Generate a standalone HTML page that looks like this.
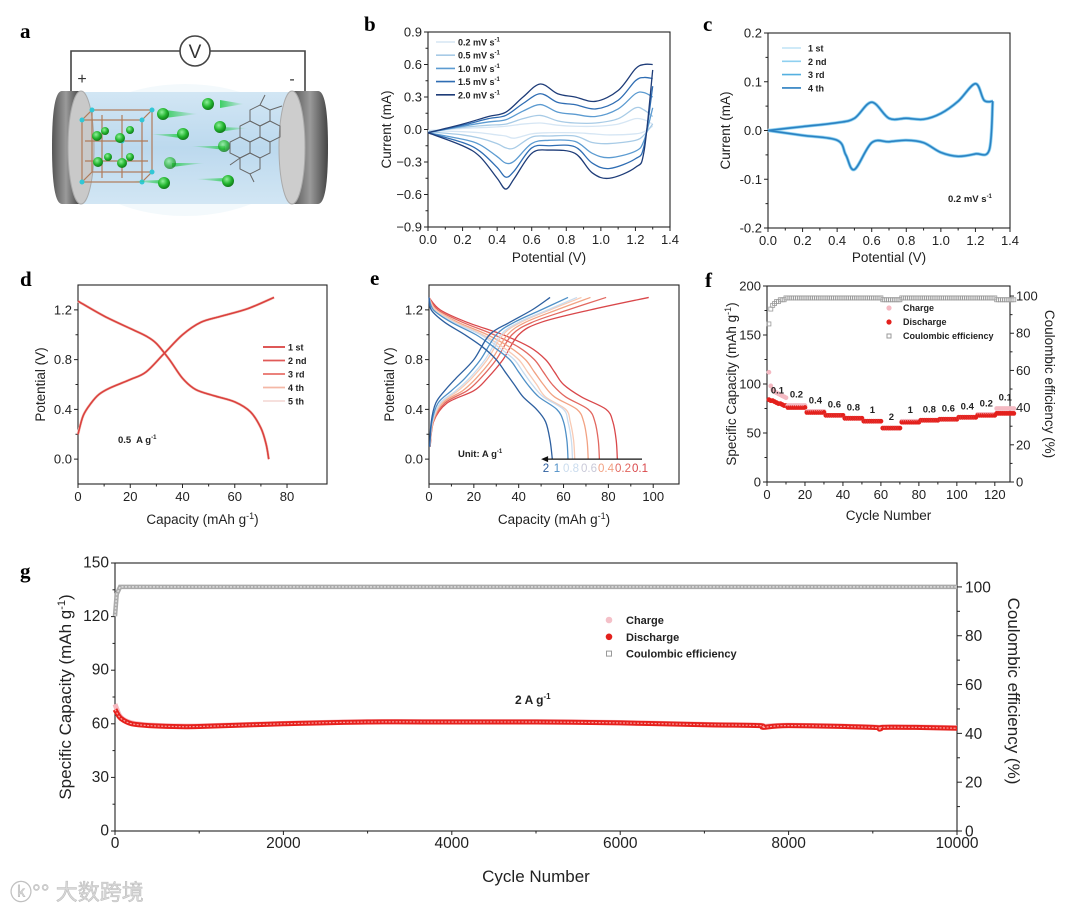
<!DOCTYPE html>
<html><head><meta charset="utf-8">
<style>
html,body{margin:0;padding:0;background:#fff;}
svg{display:block;font-family:"Liberation Sans","Noto Sans CJK SC",sans-serif;}
.pl{font-family:"Liberation Serif",serif;font-weight:bold;font-size:21px;}
</style></head>
<body>
<svg id="fig" width="1080" height="913" viewBox="0 0 1080 913" xmlns="http://www.w3.org/2000/svg">
<defs>
<radialGradient id="gball" cx="40%" cy="35%" r="65%"><stop offset="0" stop-color="#8ff09a"/><stop offset="0.6" stop-color="#22b52f"/><stop offset="1" stop-color="#117a1a"/></radialGradient>
<linearGradient id="gtail" x1="0" x2="1"><stop offset="0" stop-color="#2ecc55" stop-opacity="0"/><stop offset="1" stop-color="#2ecc55" stop-opacity="0.9"/></linearGradient>
<linearGradient id="gtailr" x1="1" x2="0"><stop offset="0" stop-color="#2ecc55" stop-opacity="0"/><stop offset="1" stop-color="#2ecc55" stop-opacity="0.9"/></linearGradient>
<linearGradient id="gbody" x1="0" y1="0" x2="0" y2="1"><stop offset="0" stop-color="#d2e6f4"/><stop offset="0.5" stop-color="#bcd9ee"/><stop offset="1" stop-color="#d2e6f4"/></linearGradient>
<linearGradient id="gcap" x1="0" y1="0" x2="1" y2="0"><stop offset="0" stop-color="#555"/><stop offset="0.5" stop-color="#9a9a9a"/><stop offset="1" stop-color="#444"/></linearGradient>
</defs>
<text class="pl" x="20" y="38">a</text>
<text class="pl" x="364" y="31">b</text>
<text class="pl" x="703" y="31">c</text>
<text class="pl" x="20" y="286">d</text>
<text class="pl" x="370" y="285">e</text>
<text class="pl" x="705" y="287">f</text>
<text class="pl" x="20" y="578">g</text>

<g>
  <polyline points="71,92 71,51 180,51" fill="none" stroke="#444" stroke-width="1.6"/>
  <polyline points="210,51 305,51 305,92" fill="none" stroke="#444" stroke-width="1.6"/>
  <circle cx="195" cy="51" r="15" fill="#fff" stroke="#444" stroke-width="1.6"/>
  <text x="195" y="58" font-size="19" text-anchor="middle" fill="#333">V</text>
  <text x="82" y="84" font-size="16" text-anchor="middle" fill="#333">+</text>
  <text x="292" y="84" font-size="16" text-anchor="middle" fill="#333">-</text>
  <ellipse cx="185" cy="150" rx="115" ry="66" fill="#eef6fb" opacity="0.7"/>
  <rect x="82" y="92" width="210" height="112" fill="url(#gbody)"/>
  <path d="M80,91 L62,91 Q52,91 52,147 Q52,204 62,204 L80,204 Z" fill="url(#gcap)"/>
  <ellipse cx="81" cy="147.5" rx="13" ry="56.5" fill="#c9c9c9" stroke="#aaa"/>
  <path d="M292,91 L318,91 Q328,91 328,147 Q328,204 318,204 L292,204 Z" fill="url(#gcap)"/>
  <ellipse cx="292" cy="147.5" rx="13" ry="56.5" fill="#cdcdcd" stroke="#aaa"/>
  <g stroke="#b07b5a" stroke-width="1.2" fill="none">
    <rect x="82" y="120" width="60" height="62"/>
    <rect x="92" y="110" width="60" height="62"/>
    <line x1="82" y1="120" x2="92" y2="110"/><line x1="142" y1="120" x2="152" y2="110"/>
    <line x1="82" y1="182" x2="92" y2="172"/><line x1="142" y1="182" x2="152" y2="172"/>
    <line x1="102" y1="115" x2="102" y2="178"/><line x1="122" y1="115" x2="122" y2="178"/>
    <line x1="85" y1="141" x2="148" y2="141"/><line x1="85" y1="161" x2="148" y2="161"/>
  </g>
  <g fill="#31c7d6">
    <circle cx="82" cy="120" r="2.5"/><circle cx="142" cy="120" r="2.5"/><circle cx="92" cy="110" r="2.5"/><circle cx="152" cy="110" r="2.5"/>
    <circle cx="82" cy="182" r="2.5"/><circle cx="142" cy="182" r="2.5"/><circle cx="152" cy="172" r="2.5"/><circle cx="122" cy="141" r="2.5"/>
  </g>
  <g>
    <circle cx="97" cy="136" r="5" fill="url(#gball)"/><circle cx="120" cy="138" r="5" fill="url(#gball)"/>
    <circle cx="105" cy="131" r="4" fill="url(#gball)"/><circle cx="130" cy="130" r="4" fill="url(#gball)"/>
    <circle cx="98" cy="162" r="5" fill="url(#gball)"/><circle cx="122" cy="163" r="5" fill="url(#gball)"/>
    <circle cx="108" cy="157" r="4" fill="url(#gball)"/><circle cx="130" cy="157" r="4" fill="url(#gball)"/>
  </g>
  <g>
    <polygon points="165,110 198,114 165,118" fill="url(#gtailr)"/><circle cx="163" cy="114" r="6" fill="url(#gball)"/>
    <polygon points="220,100 244,104 220,108" fill="url(#gtailr)"/><circle cx="208" cy="104" r="6" fill="url(#gball)"/>
    <polygon points="150,134 180,134 180,138" fill="url(#gtail)"/><circle cx="183" cy="134" r="6" fill="url(#gball)"/>
    <polygon points="218,127 248,128 218,132" fill="url(#gtailr)"/><circle cx="220" cy="127" r="6" fill="url(#gball)"/>
    <polygon points="190,146 225,146 225,150" fill="url(#gtail)"/><circle cx="224" cy="146" r="6" fill="url(#gball)" opacity="0.8"/>
    <polygon points="172,163 205,163 172,167" fill="url(#gtailr)"/><circle cx="170" cy="163" r="6" fill="url(#gball)" opacity="0.7"/>
    <polygon points="132,181 163,180 163,184" fill="url(#gtail)"/><circle cx="164" cy="183" r="6" fill="url(#gball)"/>
    <polygon points="195,179 227,178 227,182" fill="url(#gtail)"/><circle cx="228" cy="181" r="6" fill="url(#gball)"/>
  </g>
  <g stroke="#666" stroke-width="1" fill="none">
    <polygon points="260,105 270,110 270,121 260,126 250,121 250,110"/>
    <polygon points="270,121 280,126 280,137 270,142 260,137 260,126"/>
    <polygon points="250,121 260,126 260,137 250,142 240,137 240,126"/>
    <polygon points="260,137 270,142 270,153 260,158 250,153 250,142"/>
    <polygon points="240,137 250,142 250,153 240,158 230,153 230,142"/>
    <polygon points="250,153 260,158 260,169 250,174 240,169 240,158"/>
    <line x1="260" y1="105" x2="265" y2="95"/><line x1="270" y1="110" x2="282" y2="106"/>
    <line x1="240" y1="158" x2="230" y2="165"/><line x1="250" y1="174" x2="254" y2="182"/>
  </g>
</g>

<g id="plots"></g>

<text x="10" y="900" font-size="22" fill="#d8d8d8" stroke="#bbb" stroke-width="0.5">ⓚ°° 大数跨境</text>
</svg>

<script>
// ===== Panel b data =====
const bRates = ['0.2','0.5','1.0','1.5','2.0'];
const bAnodicX = [0,0.2,0.35,0.45,0.55,0.65,0.75,0.85,0.97,1.1,1.2,1.25,1.3];
const bAnodic02 = [-0.01,0.01,0.02,0.03,0.05,0.06,0.04,0.03,0.03,0.05,0.10,0.09,0.05];
const bAnodic05 = [-0.02,0.02,0.04,0.05,0.10,0.13,0.08,0.06,0.06,0.10,0.20,0.18,0.12];
const bAnodic10 = [-0.03,0.03,0.07,0.09,0.17,0.23,0.16,0.14,0.12,0.19,0.33,0.34,0.30];
const bAnodic15 = [-0.03,0.04,0.10,0.13,0.24,0.33,0.25,0.23,0.19,0.27,0.45,0.48,0.47];
const bAnodic20 = [-0.03,0.05,0.12,0.16,0.30,0.42,0.33,0.30,0.26,0.36,0.56,0.60,0.60];
const bCathX = [1.3,1.25,1.2,1.05,0.95,0.85,0.7,0.6,0.5,0.45,0.4,0.3,0.2,0.0];
const bCath02 = [0.03,-0.02,-0.04,-0.05,-0.04,-0.03,-0.03,-0.04,-0.08,-0.06,-0.05,-0.03,-0.02,-0.01];
const bCath05 = [0.05,-0.05,-0.10,-0.13,-0.12,-0.06,-0.06,-0.07,-0.17,-0.17,-0.13,-0.08,-0.05,-0.02];
const bCath10 = [0.20,-0.10,-0.20,-0.26,-0.22,-0.11,-0.10,-0.13,-0.29,-0.31,-0.25,-0.14,-0.09,-0.03];
const bCath15 = [0.40,-0.15,-0.27,-0.36,-0.31,-0.16,-0.15,-0.17,-0.38,-0.44,-0.35,-0.20,-0.12,-0.03];
const bCath20 = [0.55,-0.20,-0.35,-0.45,-0.40,-0.22,-0.19,-0.22,-0.45,-0.55,-0.45,-0.25,-0.15,-0.03];
const bTicksY = [-0.9,-0.6,-0.3,0.0,0.3,0.6,0.9];
const bTickLabelsY = ['−0.9','−0.6','−0.3','0.0','0.3','0.6','0.9'];
const xTicksCV = [0,0.2,0.4,0.6,0.8,1.0,1.2,1.4];
const xTickLabelsCV = ['0.0','0.2','0.4','0.6','0.8','1.0','1.2','1.4'];

// ===== Panel c data =====
const cCycles = ['1 st','2 nd','3 rd','4 th'];
const cAnodicX = [0,0.2,0.4,0.5,0.6,0.7,0.8,0.9,1.0,1.1,1.2,1.25,1.3];
const cAnodicY = [0,0.008,0.016,0.025,0.058,0.025,0.025,0.023,0.035,0.06,0.096,0.062,0.06];
const cCathX = [1.3,1.28,1.2,1.1,1.0,0.9,0.8,0.7,0.6,0.5,0.45,0.4,0.2,0];
const cCathY = [0.06,-0.04,-0.048,-0.053,-0.045,-0.025,-0.02,-0.023,-0.025,-0.08,-0.05,-0.02,-0.01,0];
const cTicksY = [-0.2,-0.1,0,0.1,0.2];
const cTickLabelsY = ['-0.2','-0.1','0.0','0.1','0.2'];

// ===== Panel d data =====
const dCycles = ['1 st','2 nd','3 rd','4 th','5 th'];
const dChargeCap = [0,2,5,8,12,20,26,33,40,47,55,65,75];
const dChargeV = [0.2,0.35,0.45,0.52,0.57,0.64,0.7,0.85,1.0,1.1,1.15,1.21,1.3];
const dDisCap = [0,10,20,26,30,35,40,45,52,60,66,70,72,73];
const dDisV = [1.27,1.15,1.05,0.99,0.93,0.8,0.65,0.56,0.51,0.46,0.38,0.25,0.12,0.0];
const gcdTicksY = [0,0.4,0.8,1.2];
const gcdTickLabelsY = ['0.0','0.4','0.8','1.2'];

// ===== Panel e data =====
const eRates = ['0.1','0.2','0.4','0.6','0.8','1','2'];
const eChargeV = [0.1,0.3,0.45,0.55,0.65,0.8,1.0,1.1,1.2,1.3];
const eCharge01 = [0.5,2,8,20,26,33,40,50,72,98];
const eCharge02 = [0.5,2,7,17,23,30,37,46,62,79];
const eCharge04 = [0.4,1.8,6,15,21,28,35,43,57,72];
const eCharge06 = [0.4,1.6,5.5,13,19,26,33,41,54,68];
const eCharge08 = [0.4,1.5,5,12,18,25,32,40,53,66];
const eCharge1 = [0.3,1.3,4,10,16,23,30,38,50,62];
const eCharge2 = [0.3,1,3,7,12,20,27,36,46,54];
const eDisV = [1.3,1.2,1.1,1.0,0.9,0.8,0.7,0.6,0.5,0.4,0.3,0.15,0];
const eDis01 = [0,5,17,33,45,52,56,60,68,79,82,83.5,84];
const eDis02 = [0,4,15,29,40,47,51,55,61,71,74,75.5,76];
const eDis04 = [0,3,13,26,36,43,47,51,56,66,69,70.5,71];
const eDis06 = [0,3,12,24,33,40,44,48,52,61,63,64.5,65];
const eDis08 = [0,2,11,23,31,38,42,46,51,60,62,63.5,64];
const eDis1 = [0,2,10,21,29,36,40,44,49,57,60,61.5,62];
const eDis2 = [0,1,7,16,24,30,34,38,42,48,52,54,55];

// ===== Panel f data =====
const fRateLabels = ['0.1','0.2','0.4','0.6','0.8','1','2','1','0.8','0.6','0.4','0.2','0.1'];
const fDisFirst = [84,83,83,82,81,80,80,79,78,78];
const fChgFirst = [112,98,94,92,91,90,89,88,87,86];
const fDisLevels = [0,76,71,68,65,62,55,61,63,64,66,68,70];
const fChgLevels = [0,78,72,68,65,62,55,62,63,64,66,69,75];
const fCeFirst = [85,93,95,96,97,97,98,98,98,99];
const fCeLevels = [0,99,99,99,99,99,98,99,99,99,99,99,98];

// ===== Panel g data =====
const gCycles = [0,50,100,200,400,700,1000,2000,3000,4000,5000,6000,7000,7650,7700,8000,9000,9080,9120,9500,10000];
const gDischarge = [68,64,62,60,59,58.5,58.5,60,61,61,61,60.5,59.5,59,58,59,58,57,58,58,57.5];
const gCharge = [71,65,62.5,60.5,59.3,58.8,58.8,60.2,61.2,61.2,61.2,60.7,59.7,59.2,58.5,59.2,58.2,57.5,58.2,58.2,57.8];
const gCeCycles = [0,20,60,10000];
const gCe = [88,97,100,100];

const NS = 'http://www.w3.org/2000/svg';
const root = document.getElementById('plots');
function mk(tag, attrs, name, parent){
  const e = document.createElementNS(NS, tag);
  for (const k in attrs) e.setAttribute(k, attrs[k]);
  
  
  (parent || root).appendChild(e);
  return e;
}
function txt(x,y,s,size,name,opt){
  opt = opt||{};
  const t = mk('text',{x:x,y:y,'font-size':size,'text-anchor':opt.anchor||'middle',fill:opt.fill||'#222','font-weight':opt.bold?'bold':'normal'},name,opt.parent);
  if (opt.rot) t.setAttribute('transform','rotate('+opt.rot+' '+x+' '+y+')');
  t.textContent = s;
  return t;
}
function lin(d0,d1,r0,r1){ return v => r0 + (v-d0)*(r1-r0)/(d1-d0); }
function smooth(pts){
  let d = 'M'+pts[0][0].toFixed(2)+','+pts[0][1].toFixed(2);
  for (let i=0;i<pts.length-1;i++){
    const p0=pts[Math.max(0,i-1)],p1=pts[i],p2=pts[i+1],p3=pts[Math.min(pts.length-1,i+2)];
    const c1=[p1[0]+(p2[0]-p0[0])/6,p1[1]+(p2[1]-p0[1])/6];
    const c2=[p2[0]-(p3[0]-p1[0])/6,p2[1]-(p3[1]-p1[1])/6];
    d+=' C'+c1[0].toFixed(2)+','+c1[1].toFixed(2)+' '+c2[0].toFixed(2)+','+c2[1].toFixed(2)+' '+p2[0].toFixed(2)+','+p2[1].toFixed(2);
  }
  return d;
}
function frame(p){
  const g = mk('g',{},p.name);
  mk('rect',{x:p.L,y:p.T,width:p.R-p.L,height:p.B-p.T,fill:'none',stroke:'#222','stroke-width':1.1},p.name+'-frame',g);
  p.xt.forEach((v,i)=>{
    const x=p.sx(v);
    mk('line',{x1:x,y1:p.B,x2:x,y2:p.B+4,stroke:'#222','stroke-width':1},'x-tick',g);
    txt(x,p.B+17,p.xl[i],p.fs||13,'x-tick-label',{parent:g});
    if (p.xminor && i<p.xt.length-1){ const xm=p.sx((v+p.xt[i+1])/2); if (xm<p.R) mk('line',{x1:xm,y1:p.B,x2:xm,y2:p.B+2.5,stroke:'#222','stroke-width':1},'x-minor-tick',g);}
  });
  p.yt.forEach((v,i)=>{
    const y=p.sy(v);
    mk('line',{x1:p.L,y1:y,x2:p.L-4,y2:y,stroke:'#222','stroke-width':1},'y-tick',g);
    txt(p.L-6,y+4.5,p.yl[i],p.fs||13,'y-tick-label',{anchor:'end',parent:g});
    if (i<p.yt.length-1){ const ym=p.sy((v+p.yt[i+1])/2); mk('line',{x1:p.L,y1:ym,x2:p.L-2.5,y2:ym,stroke:'#222','stroke-width':1},'y-minor-tick',g);}
  });
  return g;
}
function pline(g, xs, ys, sx, sy, color, w, name){
  const pts = xs.map((x,i)=>[sx(x),sy(ys[i])]);
  return mk('path',{d:smooth(pts),fill:'none',stroke:color,'stroke-width':w,'stroke-linejoin':'round'},name,g);
}

// ---------- Panel b ----------
(function(){
  const L=428,R=670,T=32,B=227;
  const sx=lin(0,1.4,L,R), sy=lin(-0.9,0.9,B,T);
  const g=frame({name:'panel-b-cv',L,R,T,B,sx,sy,xt:xTicksCV,xl:xTickLabelsCV,yt:bTicksY,yl:bTickLabelsY,xminor:true});
  const an=[bAnodic02,bAnodic05,bAnodic10,bAnodic15,bAnodic20];
  const ca=[bCath02,bCath05,bCath10,bCath15,bCath20];
  const cols=['#d6e6f4','#a8cbe6','#5c9bd1','#2f6db3','#1e3c78'];
  bRates.forEach((r,i)=>{
    pline(g,bAnodicX,an[i],sx,sy,cols[i],1.3,'cv-anodic-'+r);
    pline(g,bCathX,ca[i],sx,sy,cols[i],1.3,'cv-cathodic-'+r);
    const ly=42+i*13.2;
    mk('line',{x1:436,y1:ly,x2:455,y2:ly,stroke:cols[i],'stroke-width':1.6},'legend-line-'+r,g);
    const t=txt(458,ly+3.5,'',9,'legend-label-'+r,{anchor:'start',bold:true,parent:g});
    t.innerHTML=r+' mV s<tspan dy="-4" font-size="6">-1</tspan>';
  });
  txt((L+R)/2,262,'Potential (V)',13.5,'x-axis-title',{parent:g});
  txt(391,(T+B)/2,'Current (mA)',13.5,'y-axis-title',{parent:g,rot:-90});
})();

// ---------- Panel c ----------
(function(){
  const L=768,R=1010,T=33,B=228;
  const sx=lin(0,1.4,L,R), sy=lin(-0.2,0.2,B,T);
  const g=frame({name:'panel-c-cv',L,R,T,B,sx,sy,xt:xTicksCV,xl:xTickLabelsCV,yt:cTicksY,yl:cTickLabelsY,xminor:true});
  const cols=['#bfe3f6','#8fd0f0','#55b0e0','#2b7fc0'];
  const ws=[3.5,2.8,2,1.3];
  cCycles.forEach((c,i)=>{
    pline(g,cAnodicX,cAnodicY,sx,sy,cols[i],ws[i],'cv-cycle-anodic-'+i);
    pline(g,cCathX,cCathY,sx,sy,cols[i],ws[i],'cv-cycle-cathodic-'+i);
    const ly=48+i*13.3;
    mk('line',{x1:782,y1:ly,x2:801,y2:ly,stroke:cols[i],'stroke-width':1.6},'legend-line',g);
    txt(808,ly+3.5,c,9,'legend-label',{anchor:'start',bold:true,parent:g});
  });
  const t=txt(948,202,'',9.5,'scan-rate-annotation',{anchor:'start',bold:true,parent:g});
  t.innerHTML='0.2 mV s<tspan dy="-4" font-size="6">-1</tspan>';
  txt((L+R)/2,262,'Potential (V)',13.5,'x-axis-title',{parent:g});
  txt(730,(T+B)/2,'Current (mA)',13.5,'y-axis-title',{parent:g,rot:-90});
})();

// ---------- Panel d ----------
(function(){
  const L=78,R=327,T=285,B=484;
  const sx=lin(0,95.3,L,R), sy=lin(-0.2,1.4,B,T);
  const g=frame({name:'panel-d-gcd',L,R,T,B,sx,sy,xt:[0,20,40,60,80],xl:['0','20','40','60','80'],yt:gcdTicksY,yl:gcdTickLabelsY,xminor:true});
  const lc=['#d9403f','#e05a58','#e8706a','#f4b8a6','#f4dcd8'];
  const ws=[1.2,1.4,1.6,2.2,2.8];
  for (let i=dCycles.length-1;i>=0;i--){
    pline(g,dChargeCap,dChargeV,sx,sy,lc[i],ws[i],'charge-curve-cycle-'+(i+1));
    pline(g,dDisCap,dDisV,sx,sy,lc[i],ws[i],'discharge-curve-cycle-'+(i+1));
  }
  dCycles.forEach((c,i)=>{
    const ly=347+i*13.5;
    mk('line',{x1:263,y1:ly,x2:285,y2:ly,stroke:lc[i],'stroke-width':1.8},'legend-line',g);
    txt(288,ly+3.5,c,9,'legend-label',{anchor:'start',bold:true,parent:g});
  });
  const t=txt(118,443,'',9.5,'current-density-annotation',{anchor:'start',bold:true,parent:g});
  t.innerHTML='0.5&#160; A g<tspan dy="-4" font-size="6">-1</tspan>';
  const xt=txt((L+R)/2,524,'',13.5,'x-axis-title',{parent:g});
  xt.innerHTML='Capacity (mAh g<tspan dy="-5" font-size="9">-1</tspan><tspan dy="5">)</tspan>';
  txt(45,(T+B)/2,'Potential (V)',13.5,'y-axis-title',{parent:g,rot:-90});
})();

// ---------- Panel e ----------
(function(){
  const L=429,R=679,T=285,B=484;
  const sx=lin(0,111.5,L,R), sy=lin(-0.2,1.4,B,T);
  const g=frame({name:'panel-e-rate-gcd',L,R,T,B,sx,sy,xt:[0,20,40,60,80,100],xl:['0','20','40','60','80','100'],yt:gcdTicksY,yl:gcdTickLabelsY,xminor:true});
  const ch=[eCharge01,eCharge02,eCharge04,eCharge06,eCharge08,eCharge1,eCharge2];
  const di=[eDis01,eDis02,eDis04,eDis06,eDis08,eDis1,eDis2];
  const cols=['#d9474a','#e2675f','#f2a283','#f8cab4','#cadcee','#4f90c7','#2d5f9f'];
  eRates.forEach((r,i)=>{
    pline(g,ch[i],eChargeV,sx,sy,cols[i],1.3,'charge-curve-'+r);
    pline(g,di[i],eDisV,sx,sy,cols[i],1.3,'discharge-curve-'+r);
  });
  mk('line',{x1:sx(95),y1:sy(0),x2:sx(52),y2:sy(0),stroke:'#111','stroke-width':1.2},'rate-arrow',g);
  mk('polygon',{points:(sx(50))+','+sy(0)+' '+(sx(50)+7)+','+(sy(0)-3)+' '+(sx(50)+7)+','+(sy(0)+3),fill:'#111'},'rate-arrowhead',g);
  const labs=['2','1','0.8','0.6','0.4','0.2','0.1'];
  const lx=[546,557,571,589,606,623,640];
  const lcol=['#2d5f9f','#4f90c7','#cadcee','#c9c9d8','#f2a283','#e2675f','#d9474a'];
  labs.forEach((s,i)=>txt(lx[i],472,s,11.5,'rate-label-'+s,{fill:lcol[i],parent:g}));
  const t=txt(458,457,'',9.5,'unit-annotation',{anchor:'start',bold:true,parent:g});
  t.innerHTML='Unit: A g<tspan dy="-4" font-size="6">-1</tspan>';
  const xt=txt((L+R)/2,524,'',13.5,'x-axis-title',{parent:g});
  xt.innerHTML='Capacity (mAh g<tspan dy="-5" font-size="9">-1</tspan><tspan dy="5">)</tspan>';
  txt(394,(T+B)/2,'Potential (V)',13.5,'y-axis-title',{parent:g,rot:-90});
})();

// ---------- Panel f ----------
(function(){
  const L=767,R=1010,T=286,B=482;
  const sx=lin(0,128,L,R), sy=lin(0,200,B,T), sy2=lin(0,105.4,B,T);
  const g=frame({name:'panel-f-rate-capability',L,R,T,B,sx,sy,xt:[0,20,40,60,80,100,120],xl:['0','20','40','60','80','100','120'],yt:[0,50,100,150,200],yl:['0','50','100','150','200'],xminor:true});
  [0,20,40,60,80,100].forEach(v=>{
    const y=sy2(v);
    mk('line',{x1:R,y1:y,x2:R+4,y2:y,stroke:'#222','stroke-width':1},'right-y-tick',g);
    txt(R+6,y+4.5,String(v),13,'right-y-tick-label',{anchor:'start',parent:g});
    if (v<100){ const ym=sy2(v+10); mk('line',{x1:R,y1:ym,x2:R+2.5,y2:ym,stroke:'#222','stroke-width':1},'right-y-minor-tick',g);}
  });
  fRateLabels.forEach((lab,s)=>{
    for (let k=0;k<10;k++){
      const cyc=s*10+k+1;
      const chg = s===0 ? fChgFirst[k] : fChgLevels[s];
      const dis = s===0 ? fDisFirst[k] : fDisLevels[s];
      const ce = s===0 ? fCeFirst[k] : fCeLevels[s];
      mk('rect',{x:sx(cyc)-2,y:sy2(ce)-2,width:4,height:4,fill:'none',stroke:'#999','stroke-width':0.8},'ce-point',g);
      mk('circle',{cx:sx(cyc),cy:sy(chg),r:2.4,fill:'#f4b9c2'},'charge-point',g);
      mk('circle',{cx:sx(cyc),cy:sy(dis),r:2.4,fill:'#e3201c'},'discharge-point',g);
    }
    const lv = s===0 ? fDisFirst[3] : Math.max(fDisLevels[s],fChgLevels[s]);
    txt(sx(s*10+5.5),sy(lv)-8,lab,9.5,'rate-label-'+lab,{bold:true,parent:g});
  });
  const leg=[['Charge','#f4b9c2','c'],['Discharge','#e3201c','c'],['Coulombic efficiency','#999','s']];
  leg.forEach((l,i)=>{
    const y=311+i*14;
    if (l[2]==='c') mk('circle',{cx:889,cy:y-3,r:2.6,fill:l[1]},'legend-marker',g);
    else mk('rect',{x:887,y:y-5,width:4,height:4,fill:'none',stroke:'#999'},'legend-marker',g);
    txt(903,y,l[0],9,'legend-label',{anchor:'start',bold:true,parent:g});
  });
  txt((L+R)/2,520,'Cycle Number',13.5,'x-axis-title',{parent:g});
  const yt=txt(736,(T+B)/2,'',13.5,'y-axis-title',{parent:g,rot:-90});
  yt.innerHTML='Specific Capacity (mAh g<tspan dy="-5" font-size="9">-1</tspan><tspan dy="5">)</tspan>';
  txt(1045,(T+B)/2,'Coulombic efficiency (%)',13.5,'right-y-axis-title',{parent:g,rot:90});
})();

// ---------- Panel g ----------
(function(){
  const L=115,R=957,T=563,B=831;
  const sx=lin(0,10000,L,R), sy=lin(0,150,B,T), sy2=lin(0,109.8,B,T);
  const g=frame({name:'panel-g-long-cycling',L,R,T,B,sx,sy,xt:[0,2000,4000,6000,8000,10000],xl:['0','2000','4000','6000','8000','10000'],yt:[0,30,60,90,120,150],yl:['0','30','60','90','120','150'],xminor:true,fs:15.5});
  [0,20,40,60,80,100].forEach(v=>{
    const y=sy2(v);
    mk('line',{x1:R,y1:y,x2:R+5,y2:y,stroke:'#222','stroke-width':1},'right-y-tick',g);
    txt(R+8,y+5.5,String(v),15.5,'right-y-tick-label',{anchor:'start',parent:g});
    if (v<100){ const ym=sy2(v+10); mk('line',{x1:R,y1:ym,x2:R+3,y2:ym,stroke:'#222','stroke-width':1},'right-y-minor-tick',g);}
  });
  const ceP=gCeCycles.map((c,i)=>[sx(c),sy2(gCe[i])]);
  mk('path',{d:'M'+ceP.map(p=>p[0].toFixed(1)+','+p[1].toFixed(1)).join(' L'),fill:'none',stroke:'#aaa','stroke-width':4.5},'ce-series',g);
  mk('path',{d:'M'+ceP.map(p=>p[0].toFixed(1)+','+p[1].toFixed(1)).join(' L'),fill:'none',stroke:'#ddd','stroke-width':1.5,'stroke-dasharray':'2 1.5'},'ce-series-inner',g);
  const chP=gCycles.map((c,i)=>[sx(c),sy(gCharge[i])]);
  mk('path',{d:smooth(chP),fill:'none',stroke:'#f5b8bf','stroke-width':5},'charge-series',g);
  const dP=gCycles.map((c,i)=>[sx(c),sy(gDischarge[i])]);
  mk('path',{d:smooth(dP),fill:'none',stroke:'#e6201c','stroke-width':5},'discharge-series',g);
  mk('path',{d:smooth(dP),fill:'none',stroke:'#f7a0a0','stroke-width':1.2,'stroke-dasharray':'2 1.5'},'discharge-series-inner',g);
  const leg=[['Charge','#f4c0c8','c'],['Discharge','#e3201c','c'],['Coulombic efficiency','#999','s']];
  leg.forEach((l,i)=>{
    const y=624+i*16.8;
    if (l[2]==='c') mk('circle',{cx:609,cy:y-4,r:3.3,fill:l[1]},'legend-marker',g);
    else mk('rect',{x:606.5,y:y-6.5,width:5,height:5,fill:'none',stroke:'#999'},'legend-marker',g);
    txt(626,y,l[0],11,'legend-label',{anchor:'start',bold:true,parent:g});
  });
  const a=txt(515,704,'',12,'current-density-annotation',{anchor:'start',bold:true,parent:g});
  a.innerHTML='2 A g<tspan dy="-5" font-size="8">-1</tspan>';
  txt((L+R)/2,882,'Cycle Number',17,'x-axis-title',{parent:g});
  const yt=txt(71,(T+B)/2,'',17,'y-axis-title',{parent:g,rot:-90});
  yt.innerHTML='Specific Capacity (mAh g<tspan dy="-6" font-size="11">-1</tspan><tspan dy="6">)</tspan>';
  txt(1008,(T+B)/2-6,'Coulombic efficiency (%)',17,'right-y-axis-title',{parent:g,rot:90});
})();
</script>
</body></html>
